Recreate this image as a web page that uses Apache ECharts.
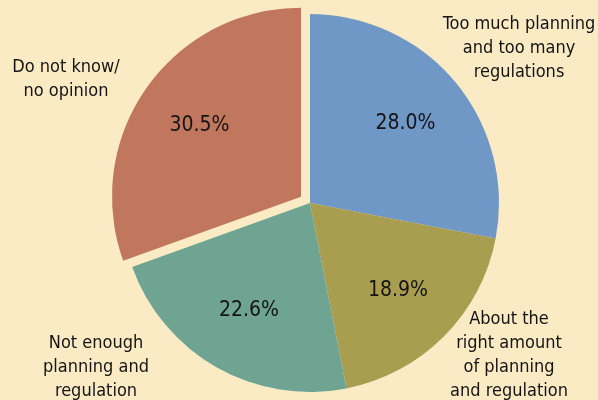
<!DOCTYPE html>
<html><head><meta charset="utf-8">
<script src="https://cdn.jsdelivr.net/npm/echarts@6/dist/echarts.min.js"></script>
<style>html,body{margin:0;padding:0;background:#FBEBC5}#c{width:598px;height:400px}</style>
</head><body><div id="c"></div>
<script>
// Data
const categories = [
  'Too much planning\nand too many\nregulations',
  'About the\nright amount\nof planning\nand regulation',
  'Not enough\nplanning and\nregulation',
  'Do not know/\nno opinion'
];
const shares = [28.0, 18.9, 22.6, 30.5];
const explodedIndex = 3;

// Styles / layout
const colors = ['#7098C7', '#A99E4F', '#6FA493', '#C0775E'];
const outerLabelPos = [[519, 48], [509, 355], [96, 367], [66, 79]];
const center = [310, 203];
const R = 189;
const FONT = 'DejaVu Sans Condensed';

function makeData(withColor, withSelect) {
  return categories.map((name, i) => ({
    name: name,
    value: shares[i],
    selected: withSelect && i === explodedIndex,
    itemStyle: { color: withColor ? colors[i] : 'rgba(0,0,0,0)' }
  }));
}

const base = {
  type: 'pie',
  center: center,
  startAngle: 90,
  clockwise: true,
  selectedMode: 'single',
  selectedOffset: 11,
  avoidLabelOverlap: false,
  emphasis: { disabled: true },
  labelLine: { show: false }
};

const chart = echarts.init(document.getElementById('c'), null, { renderer: 'canvas' });
chart.setOption({
  backgroundColor: '#FBEBC5',
  animation: false,
  series: [
    Object.assign({}, base, {
      radius: [0, R],
      itemStyle: { borderWidth: 0 },
      label: { show: false },
      data: makeData(true, true),
      z: 1
    }),
    Object.assign({}, base, {
      radius: [53, R],
      silent: true,
      label: {
        show: true,
        position: 'inside',
        formatter: p => p.value.toFixed(1) + '%',
        fontFamily: FONT,
        fontSize: 21,
        color: '#141414'
      },
      data: makeData(false, true),
      z: 2
    }),
    Object.assign({}, base, {
      radius: [0, R],
      silent: true,
      selectedMode: false,
      label: {
        show: true,
        position: 'outside',
        formatter: p => p.name,
        fontFamily: FONT,
        fontSize: 18,
        lineHeight: 24,
        color: '#141414',
        align: 'center'
      },
      labelLayout: function (params) {
        const p = outerLabelPos[params.dataIndex];
        return { x: p[0], y: p[1], align: 'center', verticalAlign: 'middle' };
      },
      data: makeData(false, false),
      z: 3
    })
  ]
});
</script>
</body></html>
